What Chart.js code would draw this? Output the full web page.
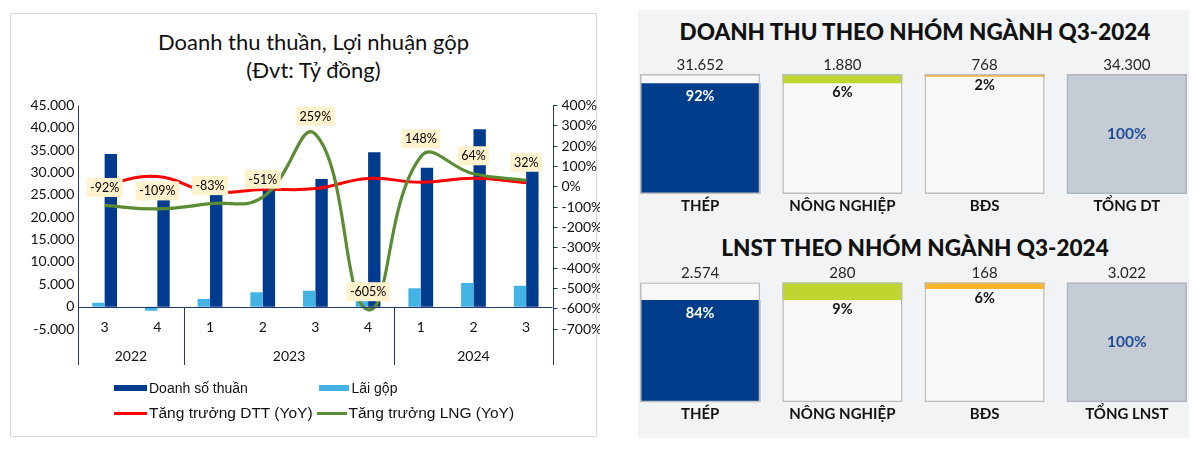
<!DOCTYPE html>
<html><head><meta charset="utf-8">
<script src="https://cdn.jsdelivr.net/npm/chart.js@4.4.1/dist/chart.umd.min.js"></script>
<style>
html,body{margin:0;padding:0;background:#fff;width:1200px;height:452px;overflow:hidden;position:relative;}
#lp{position:absolute;left:10px;top:13px;width:587px;height:424px;border:1px solid #D9D9D9;box-sizing:border-box;background:#fff;}
#rp{position:absolute;left:638px;top:10px;width:551px;height:428px;background:#F2F3F5;}
canvas{position:absolute;}
.ttl{position:absolute;left:0;width:627px;text-align:center;font-family:Lato,'Noto Sans',sans-serif;font-size:22px;line-height:28px;color:#111;}
.lg{position:absolute;font-family:'Liberation Sans',Arial,sans-serif;font-size:15px;line-height:18px;color:#111;white-space:nowrap;}
.sw{position:absolute;}
.rt{position:absolute;left:638px;width:554px;text-align:center;font-family:Lato,'Noto Sans',sans-serif;font-weight:900;font-size:22.5px;line-height:28px;color:#111;white-space:nowrap;}
</style></head>
<body>
<div id="lp"></div>
<div id="rp"></div>
<div class="ttl" style="top:28px">Doanh thu thuần, Lợi nhuận gộp</div>
<div class="ttl" style="top:55.5px">(Đvt: Tỷ đồng)</div>
<canvas id="c1" width="600" height="452" style="left:0;top:0"></canvas>
<div class="sw" style="left:114px;top:385px;width:33px;height:6px;background:#003B8E"></div>
<div class="lg" style="left:149px;top:379px;font-size:14px">Doanh số thuần</div>
<div class="sw" style="left:319px;top:385px;width:30px;height:6px;background:#43B3E6"></div>
<div class="lg" style="left:351.5px;top:379px;font-size:14px">Lãi gộp</div>
<div class="sw" style="left:114px;top:412px;width:33px;height:3px;background:#FF0000"></div>
<div class="lg" style="left:149px;top:404px;font-size:15.5px">Tăng trưởng DTT (YoY)</div>
<div class="sw" style="left:316.5px;top:412px;width:30px;height:3px;background:#5B8C33"></div>
<div class="lg" style="left:348.5px;top:404px;font-size:15.5px">Tăng trưởng LNG (YoY)</div>

<div class="rt" style="top:17.7px">DOANH THU THEO NHÓM NGÀNH Q3-2024</div>
<div class="rt" style="top:234.3px">LNST THEO NHÓM NGÀNH Q3-2024</div>
<canvas id="c2" width="600" height="226" style="left:600px;top:0"></canvas>
<canvas id="c3" width="600" height="226" style="left:600px;top:226px"></canvas>
<script>
// ---- data: left chart ----
const quarters = ['3','4','1','2','3','4','1','2','3'];
const years = ['2022','2023','2024'];
const yearSpans = [2,4,3];
const doanhSoThuan = [34150, 24000, 25200, 26600, 28550, 34530, 31090, 39670, 30410];
const laiGop = [900, -900, 1700, 3200, 3550, 4500, 4100, 5300, 4700];
const tangTruongDTT = [12, 50, -25, -13, -9, 41, 22, 42, 20];
const tangTruongLNG = [-92, -109, -83, -51, 259, -605, 148, 64, 32];
const leftTicks = {min:-5000, max:45000, step:5000};
const rightTicks = {min:-700, max:400, step:100};
// ---- data: right tiles ----
const dtCats = ['THÉP','NÔNG NGHIỆP','BĐS','TỔNG DT'];
const dtValues = [31652, 1880, 768, 34300];
const dtShares = [92, 6, 2, 100];
const lnCats = ['THÉP','NÔNG NGHIỆP','BĐS','TỔNG LNST'];
const lnValues = [2574, 280, 168, 3022];
const lnShares = [84, 9, 6, 100];

function fmt(v){const s=Math.abs(v).toString().replace(/\B(?=(\d{3})+(?!\d))/g,'.');return (v<0?'-':'')+s;}
const AX='#22396B';
const tickFont={family:'Lato, "Noto Sans", sans-serif',size:14};

const decor={
  id:'decor',
  afterDatasetsDraw(chart){
    const ctx=chart.ctx, a=chart.chartArea, x=chart.scales.x, y=chart.scales.y;
    const z=Math.round(y.getPixelForValue(0))+0.5, bottom=365;
    ctx.save();
    ctx.strokeStyle=AX; ctx.lineWidth=1;
    ctx.beginPath();
    ctx.moveTo(a.left,z); ctx.lineTo(a.right,z);
    ctx.moveTo(Math.round(a.left)+0.5,a.top); ctx.lineTo(Math.round(a.left)+0.5,bottom);
    ctx.moveTo(Math.round(a.right)+0.5,a.top); ctx.lineTo(Math.round(a.right)+0.5,bottom);
    const w=(a.right-a.left)/quarters.length;
    let idx=0;
    yearSpans.forEach((n,k)=>{
      if(k>0){const sx=Math.round(x.getPixelForValue(idx)-w/2)+0.5;ctx.moveTo(sx,z);ctx.lineTo(sx,bottom);}
      idx+=n;
    });
    ctx.stroke();
    ctx.fillStyle='#111'; ctx.font='14px Lato, "Noto Sans", sans-serif'; ctx.textAlign='center'; ctx.textBaseline='middle';
    quarters.forEach((q,i)=>ctx.fillText(q,x.getPixelForValue(i),327.7));
    idx=0;
    yearSpans.forEach((n,k)=>{
      const cx=(x.getPixelForValue(idx)+x.getPixelForValue(idx+n-1))/2;
      ctx.fillText(years[k],cx,356.7); idx+=n;
    });
    // data labels for LNG growth
    const meta=chart.getDatasetMeta(3);
    ctx.font='12.5px Lato, "Noto Sans", sans-serif';
    meta.data.forEach((pt,i)=>{
      const t=tangTruongLNG[i]+'%';
      const tw=ctx.measureText(t).width+7, th=19;
      const cx=pt.x, cy=pt.y-18;
      ctx.fillStyle='#FFF2CC'; ctx.fillRect(cx-tw/2,cy-th/2,tw,th);
      ctx.fillStyle='#000'; ctx.fillText(t,cx,cy+0.5);
    });
    ctx.restore();
  }
};

new Chart(document.getElementById('c1'),{
  type:'bar',
  data:{labels:quarters,datasets:[
    {label:'Doanh số thuần',data:doanhSoThuan,backgroundColor:'#003B8E',yAxisID:'y',categoryPercentage:0.47,barPercentage:1,order:3},
    {label:'Lãi gộp',data:laiGop,backgroundColor:'#43B3E6',yAxisID:'y',categoryPercentage:0.47,barPercentage:1,order:2},
    {type:'line',label:'Tăng trưởng DTT (YoY)',data:tangTruongDTT,borderColor:'#FF0000',borderWidth:3,pointRadius:0,tension:0.45,yAxisID:'y1',order:1},
    {type:'line',label:'Tăng trưởng LNG (YoY)',data:tangTruongLNG,borderColor:'#5B8C33',borderWidth:3.2,pointRadius:0,tension:0.45,yAxisID:'y1',order:0}
  ]},
  options:{
    responsive:false,animation:false,devicePixelRatio:1,
    layout:{padding:{top:105.5,bottom:123,left:0,right:0}},
    plugins:{legend:{display:false},tooltip:{enabled:false},title:{display:false}},
    scales:{
      x:{display:false,offset:true},
      y:{position:'left',min:leftTicks.min,max:leftTicks.max,
         ticks:{stepSize:leftTicks.step,callback:v=>fmt(v),font:tickFont,color:'#111',padding:4},
         grid:{display:false,drawTicks:false},border:{display:false},
         afterFit(s){s.width=78.3;}},
      y1:{position:'right',min:rightTicks.min,max:rightTicks.max,
         ticks:{stepSize:rightTicks.step,callback:v=>v+'%',font:tickFont,color:'#111',padding:4},
         grid:{display:true,drawOnChartArea:false,drawTicks:true,tickLength:5,color:AX},border:{display:false},
         afterFit(s){s.width=47.5;}}
    }
  },
  plugins:[decor]
});

function tile(id,cats,vals,shares,padTop,padBottom){
  const tot=vals[vals.length-1];
  const a=vals[0]/tot*100, b=(vals[0]+vals[1])/tot*100;
  const fills=[[0,a],[a,100],[b,100],null];
  const full=cats.map(()=>[0,100]);
  const lab={
    id:'lab'+id,
    afterDatasetsDraw(chart){
      const ctx=chart.ctx, fr=chart.getDatasetMeta(2), fm=chart.getDatasetMeta(1);
      ctx.save(); ctx.textAlign='center'; ctx.textBaseline='middle';
      cats.forEach((c,i)=>{
        const el=fr.data[i], x=el.x, top=el.y, bot=el.base;
        ctx.fillStyle='#262626'; ctx.font='15px Lato, "Noto Sans", sans-serif';
        ctx.fillText(fmt(vals[i]),x,top-9);
        ctx.fillStyle='#141414'; ctx.font='bold 15px Lato, "Noto Sans", sans-serif';
        ctx.fillText(c,x,bot+12);
        ctx.font='bold 14.5px Lato, "Noto Sans", sans-serif';
        const t=shares[i]+'%';
        if(i===0){ctx.fillStyle='#fff';ctx.fillText(t,x,fm.data[i].y+13);}
        else if(i===cats.length-1){ctx.fillStyle='#1F4E9C';ctx.font='bold 15.5px Lato, "Noto Sans", sans-serif';ctx.fillText(t,x,(top+bot)/2);}
        else {ctx.fillStyle='#141414';ctx.fillText(t,x,fm.data[i].base+9);}
      });
      ctx.restore();
    }
  };
  new Chart(document.getElementById(id),{
    type:'bar',
    data:{labels:cats,datasets:[
      {data:full,backgroundColor:['#F8F8F9','#F8F8F9','#F8F8F9','#C6CCD4'],borderWidth:0,grouped:false,order:3,categoryPercentage:0.845,barPercentage:1},
      {data:fills,backgroundColor:['#003E8C','#BFD631','#FBB52B','rgba(0,0,0,0)'],borderWidth:0,grouped:false,order:2,categoryPercentage:0.845,barPercentage:1},
      {data:full,backgroundColor:'rgba(0,0,0,0)',borderColor:['#BDBDBD','#BDBDBD','#BDBDBD','#AEB5BD'],borderWidth:1.5,borderSkipped:false,grouped:false,order:1,categoryPercentage:0.845,barPercentage:1}
    ]},
    options:{
      responsive:false,animation:false,devicePixelRatio:1,
      layout:{padding:{top:padTop,bottom:padBottom,left:29,right:2}},
      plugins:{legend:{display:false},tooltip:{enabled:false}},
      scales:{x:{display:false,offset:true},y:{display:false,min:0,max:100}}
    },
    plugins:[lab]
  });
}
tile('c2',dtCats,dtValues,dtShares,74,32);
tile('c3',lnCats,lnValues,lnShares,56.3,49.7);
</script>
</body></html>
